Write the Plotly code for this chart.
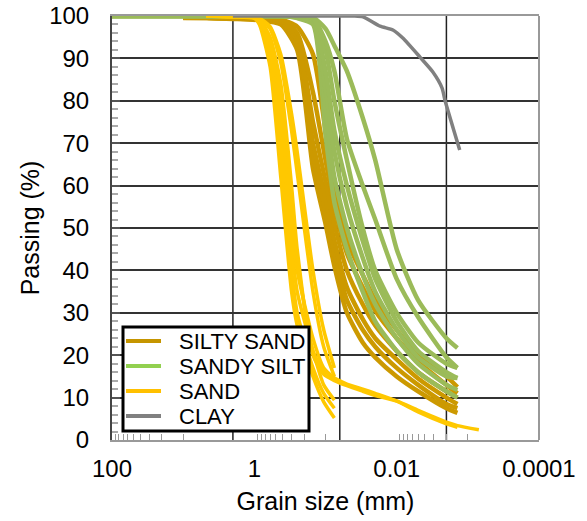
import plotly.graph_objects as go

# ---------------- data ----------------
# SAND
SAND_SIZES = [4.75, 2, 1, 0.85, 0.6, 0.425, 0.3, 0.25, 0.15, 0.106, 0.075]
SAND_1 = [100, 99.8, 99.5, 98, 88, 62, 35, 27, 15, 9, 5.2]
SAND_2 = [100, 99.8, 99.5, 98.5, 90, 68, 40, 30, 17, 11, 7.5]
SAND_3 = [100, 99.9, 99.6, 99, 92, 74, 46, 35, 21, 13, 9.4]
SAND_4 = [100, 99.9, 99.7, 99.2, 93.5, 78, 52, 40, 24, 17, 14.6]
SAND_5 = [100, 99.9, 99.8, 99.4, 97, 89, 73, 63, 35, 22, 15]
SAND_6 = [100, 99.9, 99.8, 99.5, 97.5, 91, 77, 68, 40, 26, 17]
SAND_TAIL_SIZES = [4.75, 2, 1, 0.85, 0.6, 0.425, 0.3, 0.25, 0.15, 0.106, 0.075,
                   0.05, 0.03, 0.02, 0.01, 0.005, 0.002, 0.0014, 0.0007]
SAND_7 = [100, 99.9, 99.7, 99.3, 95, 84, 60, 45, 20, 15.5, 14, 12.8, 11.5, 10.5, 9.2, 7, 4.2, 3.4, 2.4]
SAND_8 = [100, 99.9, 99.7, 99.2, 94, 82, 58, 43, 21, 16.5, 14.6, 13.2, 12, 11, 9.2, 6.6, 3.8, 3.0]

# SILTY SAND
SS_SIZES = [10, 4.75, 2, 0.85, 0.425, 0.25, 0.15, 0.1, 0.075, 0.05, 0.03, 0.02, 0.01, 0.005, 0.002, 0.0014]
SS_1 = [99.5, 99.5, 99.3, 99, 98, 92, 64, 51, 41, 30, 23, 19.5, 15, 11.5, 7.5, 6.4]
SS_2 = [99.6, 99.5, 99.4, 99.1, 98.3, 93, 67, 54, 44, 33, 26, 22, 17, 13, 8.5, 7.5]
SS_3 = [99.6, 99.6, 99.5, 99.2, 98.5, 94, 70, 57, 47, 36, 28.5, 24, 19, 14.5, 10, 8.5]
SS_4 = [99.7, 99.6, 99.5, 99.3, 98.8, 95, 75, 61, 51, 40, 32, 27, 21, 16, 11.5, 10]
SS_5 = [99.7, 99.7, 99.6, 99.4, 99, 96, 82, 66, 55, 44, 36, 30.5, 24, 18.5, 13, 11]
SS_6 = [99.8, 99.7, 99.6, 99.5, 99.2, 97.5, 91, 73, 60, 47, 39, 33, 26, 20, 15, 12.5]

# SANDY SILT
SI_SIZES = [100, 10, 2, 0.425, 0.25, 0.15, 0.1, 0.075, 0.05, 0.03, 0.02, 0.01, 0.005, 0.002, 0.0014]
SI_1 = [100, 100, 100, 100, 99.5, 98, 72, 56, 45, 35, 28, 21, 16, 11.5, 10]
SI_2 = [100, 100, 100, 100, 99.7, 98.5, 78, 62, 50, 39, 32, 24, 18, 13, 11.8]
SI_3 = [100, 100, 100, 100, 99.8, 99, 83, 68, 55, 43, 35, 26, 19.5, 15, 14.6]
SI_4 = [100, 100, 100, 100, 99.9, 99.3, 87, 73, 60, 47, 38, 28, 21, 16, 14.6]
SI_5 = [100, 100, 100, 100, 100, 99.5, 92, 80, 66, 50, 40, 30, 23, 18, 17]
SI_6 = [100, 100, 100, 100, 100, 99.7, 97, 93, 87, 76, 66, 45, 33, 24, 21.7]
SI_7 = [100, 100, 100, 100, 100, 99.5, 94, 87, 71, 60, 52, 38, 29, 19.5, 17]

# CLAY
CLAY_SIZES = [2, 0.075, 0.04, 0.0297, 0.0171, 0.0113, 0.0082, 0.0047, 0.0031, 0.0023, 0.0021, 0.0013]
CLAY_1 = [100, 100, 100, 99.8, 97.6, 96.7, 94.8, 90.3, 86.8, 83, 80.2, 68.4]

X_TICKS = [100, 1, 0.01, 0.0001]
X_TICK_TEXT = ["100", "1", "0.01", "0.0001"]
BOUNDARIES = [2, 0.063, 0.002]
MINOR_X = [90, 80, 70, 60, 50, 40, 30, 20, 10,
           0.9, 0.8, 0.7, 0.6, 0.5, 0.4, 0.3, 0.2, 0.1,
           0.009, 0.008, 0.007, 0.006, 0.005, 0.004, 0.003, 0.002, 0.001]

LEGEND_NAMES = ["SILTY SAND", "SANDY SILT", "SAND", "CLAY"]
LEGEND_COLORS = ["#C59500", "#92D050", "#FFC000", "#808080"]

groups = [
    ("SILTY SAND", "#CC9900", 4.5, [(SS_SIZES, c) for c in [SS_1, SS_2, SS_3, SS_4, SS_5, SS_6]]),
    ("SANDY SILT", "#9BBB59", 4.5, [(SI_SIZES, c) for c in [SI_1, SI_2, SI_3, SI_4, SI_5, SI_6, SI_7]]),
    ("SAND", "#FFC800", 3.5, [(SAND_SIZES, c) for c in [SAND_1, SAND_2, SAND_3, SAND_4, SAND_5, SAND_6]]
     + [(SAND_TAIL_SIZES, SAND_7), (SAND_TAIL_SIZES[:len(SAND_8)], SAND_8)]),
    ("CLAY", "#808080", 3.5, [(CLAY_SIZES, CLAY_1)]),
]

fig = go.Figure()
for name, color, width, curves in groups:
    for i, (xs, ys) in enumerate(curves):
        fig.add_trace(go.Scatter(
            x=xs, y=ys, mode="lines", name=name, legendgroup=name,
            showlegend=False,
            line=dict(color=color, width=width, shape="spline", smoothing=0.6),
        ))

FONT = "Arial, Liberation Sans, sans-serif"

# plot-area geometry in pixels (for the hand-drawn legend box)
L, R, T, B = 112, 539, 16, 440
def px(xp):
    return (xp - L) / (R - L)
def py(yp):
    return (B - yp) / (B - T)

for b in BOUNDARIES:
    fig.add_shape(type="line", xref="x", yref="paper", x0=b, x1=b, y0=0, y1=1,
                  line=dict(color="#222222", width=1.5), layer="below")
fig.add_shape(type="line", xref="paper", yref="paper", x0=1, x1=1, y0=0, y1=1,
              line=dict(color="#999999", width=2))

# legend box
fig.add_shape(type="rect", xref="paper", yref="paper",
              x0=px(123), x1=px(309), y0=py(431), y1=py(327),
              fillcolor="white", line=dict(color="black", width=3), layer="above")
row_y = [341, 366, 391, 416]
for name, color, ry in zip(LEGEND_NAMES, LEGEND_COLORS, row_y):
    fig.add_shape(type="line", xref="paper", yref="paper",
                  x0=px(126), x1=px(161), y0=py(ry), y1=py(ry),
                  line=dict(color=color, width=4), layer="above")
    fig.add_annotation(xref="paper", yref="paper", x=px(177), y=py(ry),
                       xanchor="left", yanchor="middle", text=name, showarrow=False,
                       font=dict(family=FONT, size=22, color="black"))

fig.update_layout(
    width=587, height=521,
    margin=dict(l=L, r=587 - R, t=T, b=521 - B),
    paper_bgcolor="white", plot_bgcolor="white",
    font=dict(family=FONT, color="black", size=24),
    showlegend=False,
)
fig.update_xaxes(
    type="log", range=[2, -4], automargin=False,
    tickmode="array", tickvals=X_TICKS, ticktext=X_TICK_TEXT,
    ticks="", showgrid=False, zeroline=False,
    showline=True, linecolor="#999999", linewidth=2, mirror=True,
    tickfont=dict(family=FONT, size=24, color="black"),
    ticklabelstandoff=6,
    minor=dict(tickmode="array", tickvals=MINOR_X, ticks="inside", ticklen=6,
               tickcolor="#999999", tickwidth=1, showgrid=False),
    title=dict(text="Grain size (mm)", font=dict(family=FONT, size=25, color="black"), standoff=12),
)
fig.update_yaxes(
    range=[0, 100], dtick=10, tick0=0, automargin=False,
    ticks="inside", ticklen=8, tickcolor="#555555", tickwidth=2,
    showgrid=True, gridcolor="#333333", gridwidth=1.5, zeroline=False,
    showline=True, linecolor="#444444", linewidth=2, mirror=False,
    tickfont=dict(family=FONT, size=24, color="black"),
    ticklabelstandoff=16,
    minor=dict(dtick=2, ticks="inside", ticklen=6, tickcolor="#aaaaaa", tickwidth=1.5, showgrid=False),
    title=dict(text="Passing (%)", font=dict(family=FONT, size=25, color="black"), standoff=2),
)

fig.write_html("out.html")
